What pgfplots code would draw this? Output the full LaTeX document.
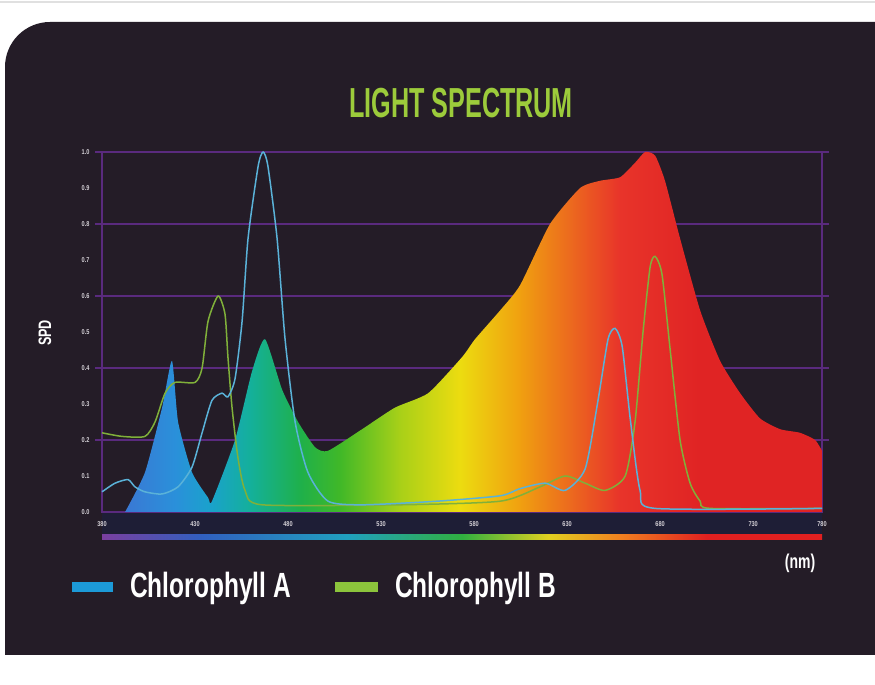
\documentclass[border=0pt]{standalone}
\usepackage{fontspec}
\usepackage{pgfplots}
\pgfplotsset{compat=1.18}
\setmainfont{Liberation Sans}
\newfontfamily\titlefont[FakeStretch=0.6]{Liberation Sans}
\newfontfamily\legfont[FakeStretch=0.7]{Liberation Sans}
\newfontfamily\tickfont[FakeStretch=0.8]{Liberation Sans}

\definecolor{panel}{HTML}{241C27}
\definecolor{gridpurple}{HTML}{5A2A7E}
\definecolor{titlegreen}{HTML}{9CCB3B}
\definecolor{tickgrey}{HTML}{D4D0D6}
\definecolor{chla}{HTML}{5AB2D8}
\definecolor{chlb}{HTML}{80B03A}
\definecolor{legblue}{HTML}{1C9AD8}
\definecolor{leggreen}{HTML}{8CC43C}
\definecolor{bandnavy}{HTML}{1E1E36}
% spectrum colours, left to right
\definecolor{s1}{HTML}{3A78D4}
\definecolor{s2}{HTML}{2A90DA}
\definecolor{s3}{HTML}{1AA2CC}
\definecolor{s4}{HTML}{14B09A}
\definecolor{s5}{HTML}{1FB04A}
\definecolor{s6}{HTML}{40B828}
\definecolor{s7}{HTML}{A8D018}
\definecolor{s8}{HTML}{ECDC10}
\definecolor{s9}{HTML}{F0A010}
\definecolor{s10}{HTML}{EC6A1E}
\definecolor{s11}{HTML}{E8342A}
\definecolor{s12}{HTML}{E02424}
\definecolor{r1}{HTML}{7A3FA0}
\definecolor{r2}{HTML}{3060C0}
\definecolor{r3}{HTML}{20A0C0}
\definecolor{r4}{HTML}{30B040}
\definecolor{r5}{HTML}{E0D020}
\definecolor{r6}{HTML}{F08020}
\definecolor{r7}{HTML}{E02020}

\pgfdeclarehorizontalshading{spectrum}{100bp}{color(0bp)=(s1); color(25bp)=(s1);
  color(28.6bp)=(s2); color(31.1bp)=(s3); color(34bp)=(s4); color(37.6bp)=(s5);
  color(40.4bp)=(s6); color(44.7bp)=(s7); color(49bp)=(s8); color(53.3bp)=(s9);
  color(56.9bp)=(s10); color(60.5bp)=(s11); color(66.2bp)=(s12); color(75bp)=(s12);
  color(100bp)=(s12)}
\pgfdeclarehorizontalshading{rainbow}{100bp}{color(0bp)=(r1); color(25bp)=(r1);
  color(32bp)=(r2); color(42bp)=(r3); color(50bp)=(r4); color(56bp)=(r5);
  color(61bp)=(r6); color(67bp)=(r7); color(75bp)=(r7); color(100bp)=(r7)}

\begin{document}
\begin{tikzpicture}
\useasboundingbox (0,0) rectangle (875pt,685pt);
\fill[white] (0,0) rectangle (875pt,685pt);
\draw[black!12, line width=1.5pt] (0,683pt) -- (875pt,683pt);
\begin{scope}
  \clip (0,30pt) rectangle (875pt,685pt);
  \fill[panel, rounded corners=45pt] (5pt,-100pt) rectangle (1000pt,663pt);
\end{scope}

\node[font=\titlefont\bfseries\fontsize{42}{42}\selectfont, text=titlegreen, anchor=base]
  at (461pt,567pt) {LIGHT SPECTRUM};

% band under the axis and rainbow bar
\fill[bandnavy] (102pt,151pt) rectangle (822pt,172pt);
\shade[shading=rainbow] (102pt,145pt) rectangle (822pt,150pt);

\begin{axis}[
    at={(102pt,173pt)}, anchor=south west,
    scale only axis, width=720pt, height=360pt,
    xmin=380, xmax=767, ymin=0, ymax=1,
    clip=false,
    axis line style={draw=gridpurple, line width=1.3pt},
    xtick={380,430,480,530,580,630,680,730,767},
    xticklabels={380,430,480,530,580,630,680,730,780},
    ytick={0,0.1,0.2,0.3,0.4,0.5,0.6,0.7,0.8,0.9,1.0},
    major tick length=0pt,
    extra y ticks={0.2,0.4,0.6,0.8,1.0},
    extra y tick labels={},
    extra y tick style={grid=major, major grid style={draw=gridpurple, line width=1.3pt},
      major tick length=7pt, tick align=outside, tick style={draw=gridpurple, line width=1.3pt}},
    ticklabel style={font=\tickfont\bfseries\fontsize{7}{7}\selectfont, text=tickgrey},
    yticklabel style={xshift=-9pt, /pgf/number format/fixed, /pgf/number format/fixed zerofill,
      /pgf/number format/precision=1},
    xticklabel style={yshift=-6pt},
    /pgf/number format/assume math mode=true,
]
% light spectrum (SPD)
\addplot[draw=none, shading=spectrum, smooth, tension=0.35] coordinates {
  (392.4,0) (403.1,0.11) (412.3,0.29) (417.6,0.42) (420.9,0.25) (428.4,0.11)
  (437,0.04) (439.1,0.03) (451.5,0.20) (460.6,0.39) (467.6,0.48) (476.8,0.34)
  (485.4,0.25) (494.5,0.18) (501.5,0.17) (519.8,0.23) (537.5,0.29) (555.3,0.33)
  (573.5,0.43) (580.5,0.48) (594,0.56) (604.7,0.63) (620.8,0.80) (637,0.90)
  (647.7,0.92) (658.5,0.93) (666.5,0.97) (671.9,1.0) (677.3,0.99) (682.6,0.92)
  (690.7,0.76) (701.5,0.56) (712.2,0.42) (723,0.33) (733.7,0.26) (744.5,0.23)
  (755.2,0.22) (763.3,0.20) (767,0.17)
} \closedcycle;

% Chlorophyll B
\addplot[chlb, line width=1.5pt, smooth, tension=0.4] coordinates {
  (380,0.22) (390.8,0.21) (403.1,0.21) (408.5,0.25) (413.9,0.33) (419.2,0.36)
  (430,0.36) (433.8,0.40) (437,0.53) (442.4,0.60) (446.1,0.55) (447.7,0.43)
  (449.9,0.29) (453.1,0.15) (456.9,0.06) (466,0.02) (540,0.02) (594,0.03)
  (615.5,0.07) (628.9,0.10) (639.7,0.08) (650.4,0.06) (661.2,0.10) (666.5,0.25)
  (670.8,0.50) (674.6,0.68) (677.3,0.71) (681,0.66) (685.4,0.45) (690.7,0.20)
  (696.1,0.08) (701.5,0.03) (706.9,0.01) (767,0.01)
};
% Chlorophyll A
\addplot[chla, line width=1.5pt, smooth, tension=0.4] coordinates {
  (380,0.056) (387,0.08) (394,0.09) (397.7,0.07) (403.1,0.056) (412.3,0.05)
  (420.9,0.07) (428.4,0.125) (433.8,0.22) (439.1,0.31) (444.5,0.33) (447.7,0.32)
  (451.5,0.37) (455.3,0.53) (458.5,0.76) (463.9,0.96) (466.6,1.0) (469.2,0.96)
  (474.1,0.76) (478.4,0.48) (483.8,0.25) (490.7,0.11) (501.5,0.03) (520,0.02)
  (560,0.03) (594,0.045) (604.7,0.065) (618.2,0.08) (628.9,0.06) (639.7,0.12)
  (646.6,0.31) (652,0.48) (655.8,0.51) (659.6,0.46) (663.9,0.26) (669.2,0.06)
  (677.3,0.01) (767,0.01)
};
\end{axis}

\node[font=\legfont\bfseries\fontsize{18}{18}\selectfont, text=white, rotate=90]
  at (45pt,352pt) {SPD};
\node[font=\legfont\bfseries\fontsize{20}{20}\selectfont, text=white]
  at (800pt,122pt) {(nm)};

% legend
\fill[legblue] (72pt,93pt) rectangle (113pt,103pt);
\node[font=\legfont\bfseries\fontsize{35}{35}\selectfont, text=white, anchor=base west, inner sep=0pt]
  at (130pt,87pt) {Chlorophyll A};
\fill[leggreen] (335pt,93pt) rectangle (378pt,103pt);
\node[font=\legfont\bfseries\fontsize{35}{35}\selectfont, text=white, anchor=base west, inner sep=0pt]
  at (395pt,87pt) {Chlorophyll B};
\end{tikzpicture}
\end{document}
